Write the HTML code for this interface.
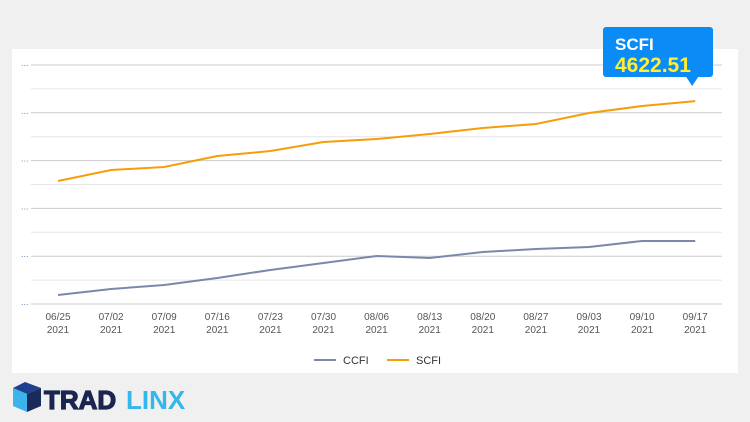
<!DOCTYPE html>
<html><head><meta charset="utf-8"><style>
body{margin:0;width:750px;height:422px;background:#f0f0f0;font-family:"Liberation Sans",sans-serif;overflow:hidden;position:relative}
#panel{position:absolute;left:12px;top:49px;width:726px;height:324px;background:#fff}
svg{position:absolute;left:0;top:0}
</style></head><body>
<div id="panel"></div>
<svg id="chart" width="750" height="422"></svg>
<script>
const categories=["06/25","07/02","07/09","07/16","07/23","07/30","08/06","08/13","08/20","08/27","09/03","09/10","09/17"];
const years=["2021","2021","2021","2021","2021","2021","2021","2021","2021","2021","2021","2021","2021"];
const ccfi=[2594,2657,2699,2772,2856,2929,3002,2981,3044,3075,3096,3159,3159];
const scfi=[3787,3902,3933,4048,4100,4195,4226,4278,4341,4383,4498,4571,4622.51];
const yTicks=[2500,2750,3000,3250,3500,3750,4000,4250,4500,4750,5000];
const NS="http://www.w3.org/2000/svg";
const svg=document.getElementById('chart');
const x=i=>58+i*53.1;
const y=v=>304-(v-2500)/2500*239;
function mk(t,a){const e=document.createElementNS(NS,t);for(const k in a)e.setAttribute(k,a[k]);svg.appendChild(e);return e;}
yTicks.forEach((v,i)=>{
 const l=mk('line',{x1:31,x2:722,y1:y(v),y2:y(v),stroke:i%2?'#e6e6e6':'#cccccc','stroke-width':1});
 
 
 if(i%2==0){const t=mk('text',{x:21,y:y(v)+1,'font-size':9,fill:'#6a8caf'});t.textContent='...';
 
 }
});
categories.forEach((c,i)=>{
 const t=mk('text',{x:x(i),y:320,'font-size':10,fill:'#555','text-anchor':'middle'});t.textContent=c;
 
 
 const t2=mk('text',{x:x(i),y:333,'font-size':10,fill:'#555','text-anchor':'middle'});t2.textContent=years[i];
 
 
});
function line(d,col,name){
 const p=mk('polyline',{points:d.map((v,i)=>x(i)+','+y(v)).join(' '),fill:'none',stroke:col,'stroke-width':2});
 
 
}
line(ccfi,'#7b88aa','ccfi-line');
line(scfi,'#f59e0b','scfi-line');
[['CCFI','#7b88aa',314],['SCFI','#f59e0b',387]].forEach(([n,c,lx])=>{
 const g=mk('line',{x1:lx,x2:lx+22,y1:360,y2:360,stroke:c,'stroke-width':2});
 
 
 const t=mk('text',{x:lx+29,y:364,'font-size':11,fill:'#333'});t.textContent=n;
 
 
});
const last=scfi.length-1,tx=x(last)-3,ty=y(scfi[last]);
const tb=mk('path',{d:`M606,27 h104 a3,3 0 0 1 3,3 v44 a3,3 0 0 1 -3,3 h-${710-tx-6} l-6,9 l-6,-9 h-${tx-6-606} a3,3 0 0 1 -3,-3 v-44 a3,3 0 0 1 3,-3z`,fill:'#0a8bf5'});


const t1=mk('text',{x:615,y:50,'font-size':17,fill:'#fff','font-weight':'bold'});t1.textContent='SCFI';


const t2=mk('text',{x:615,y:72,'font-size':21,fill:'#ffee33','font-weight':'bold'});t2.textContent=scfi[last].toFixed(2);


const lg=mk('g',{});


[['M13,388 l12,-6 l16,6 l-14,6z','#1f3f8f'],['M13,388 l14,6 v18 l-14,-6z','#3bb4ea'],['M27,394 l14,-6 v18 l-14,6z','#1a2a5a']].forEach(([d,c])=>{const p=document.createElementNS(NS,'path');p.setAttribute('d',d);p.setAttribute('fill',c);lg.appendChild(p);});
const lt=mk('text',{x:44,y:409,'font-size':26,'font-weight':'bold',fill:'#1b2550',stroke:'#1b2550','stroke-width':1.2});lt.textContent='TRAD';


const lt2=mk('text',{x:126,y:409,'font-size':26,'font-weight':'bold',fill:'#33b8ec'});lt2.textContent='LINX';


</script>
</body></html>
